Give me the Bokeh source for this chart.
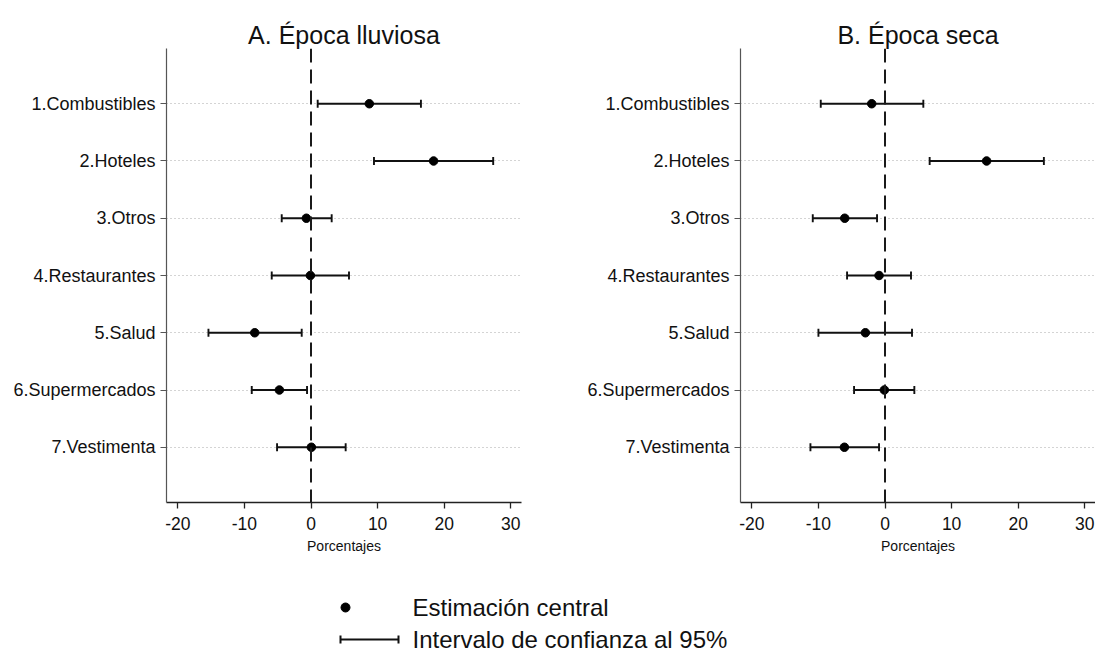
from bokeh.plotting import figure
from bokeh.layouts import column, row
from bokeh.models import (Range1d, FixedTicker, Span, Whisker, TeeHead,
                          ColumnDataSource)
from bokeh.core.properties import value
from bokeh.embed import file_html
from bokeh.resources import INLINE

# ---------------- data ----------------
categories = ["1.Combustibles", "2.Hoteles", "3.Otros", "4.Restaurantes",
              "5.Salud", "6.Supermercados", "7.Vestimenta"]

lluviosa_est = [8.75, 18.4, -0.7, -0.1, -8.45, -4.75, 0.05]
lluviosa_lo = [1.0, 9.45, -4.4, -5.9, -15.4, -8.9, -5.1]
lluviosa_hi = [16.5, 27.35, 3.1, 5.7, -1.4, -0.6, 5.2]

seca_est = [-2.0, 15.25, -6.05, -0.9, -2.95, -0.1, -6.1]
seca_lo = [-9.65, 6.7, -10.85, -5.7, -10.0, -4.65, -11.2]
seca_hi = [5.75, 23.85, -1.2, 3.9, 4.05, 4.4, -0.9]

x_ticks = [-20, -10, 0, 10, 20, 30]
x_tick_labels = ["-20", "-10", "0", "10", "20", "30"]
ref_value = 0
titles = ["A. Época lluviosa", "B. Época seca"]
x_label = "Porcentajes"
legend_labels = ["Estimación central", "Intervalo de confianza al 95%"]

FONT = "Liberation Sans"
rows_idx = list(range(1, len(categories) + 1))


def panel(title, est, lo, hi, border_left, border_right):
    p = figure(output_backend="svg", toolbar_location=None,
               frame_width=355, frame_height=454,
               min_border_left=border_left, min_border_right=border_right,
               min_border_top=48, min_border_bottom=60,
               x_range=Range1d(-21.7, 31.6),
               y_range=Range1d(len(categories) + 0.965, 0.035),
               title=title)
    p.outline_line_color = None
    p.background_fill_color = "white"
    p.border_fill_color = "white"

    p.title.text_font = FONT
    p.title.text_font_size = "25px"
    p.title.text_font_style = "normal"
    p.title.text_color = "#111111"
    p.title.align = "center"
    p.title.standoff = 0

    # x axis
    p.xaxis.ticker = FixedTicker(ticks=x_ticks)
    p.xaxis.major_label_overrides = {t: s for t, s in zip(x_ticks, x_tick_labels)}
    p.xaxis.minor_tick_line_color = None
    p.xaxis.major_tick_out = 6
    p.xaxis.major_tick_in = 0
    p.xaxis.axis_line_color = "#222222"
    p.xaxis.axis_line_width = 1.3
    p.xaxis.major_tick_line_color = "#222222"
    p.xaxis.major_tick_line_width = 1.3
    p.xaxis.major_label_standoff = 8
    p.xaxis.major_label_text_font = FONT
    p.xaxis.major_label_text_font_size = "17.5px"
    p.xaxis.major_label_text_color = "#111111"
    p.xaxis.axis_label = x_label
    p.xaxis.axis_label_text_font = FONT
    p.xaxis.axis_label_text_font_size = "14px"
    p.xaxis.axis_label_text_font_style = "normal"
    p.xaxis.axis_label_text_color = "#111111"
    p.xaxis.axis_label_standoff = 5

    # y axis
    p.yaxis.ticker = FixedTicker(ticks=rows_idx)
    p.yaxis.major_label_overrides = {i: c for i, c in zip(rows_idx, categories)}
    p.yaxis.minor_tick_line_color = None
    p.yaxis.major_tick_out = 6
    p.yaxis.major_tick_in = 0
    p.yaxis.axis_line_color = "#555555"
    p.yaxis.axis_line_width = 1.2
    p.yaxis.major_tick_line_color = "#555555"
    p.yaxis.major_tick_line_width = 1.2
    p.yaxis.major_label_text_font = FONT
    p.yaxis.major_label_text_font_size = "18px"
    p.yaxis.major_label_text_color = "#111111"

    # grid
    p.xgrid.grid_line_color = None
    p.ygrid.grid_line_color = "#a8a8a8"
    p.ygrid.grid_line_dash = "1 3"
    p.ygrid.grid_line_width = 1.2

    # reference line
    p.add_layout(Span(location=ref_value, dimension="height",
                      line_color="#1a1a1a", line_width=2, line_dash="14 7"))

    src = ColumnDataSource(dict(y=rows_idx, est=est, lo=lo, hi=hi))
    p.add_layout(Whisker(source=src, base="y", lower="lo", upper="hi",
                         dimension="width", line_color="#111111", line_width=1.9,
                         lower_head=TeeHead(size=8, line_color="#111111", line_width=1.9),
                         upper_head=TeeHead(size=8, line_color="#111111", line_width=1.9)))
    p.scatter(x="est", y="y", source=src, size=8.5, marker="circle",
              fill_color="black", line_color="black")
    return p


p1 = panel(titles[0], lluviosa_est, lluviosa_lo, lluviosa_hi, 166, 10)
p2 = panel(titles[1], seca_est, seca_lo, seca_hi, 209, 0)

# ---------------- legend (page-pixel coordinates) ----------------
leg = figure(output_backend="svg", toolbar_location=None,
             width=1095, height=90, min_border=0,
             x_range=Range1d(0, 1095), y_range=Range1d(652, 562),
             x_axis_type=None, y_axis_type=None)
leg.outline_line_color = None
leg.grid.visible = False

leg_dot_x, leg_dot_y = [345], [607]
leg_ci = ColumnDataSource(dict(y=[639], lo=[340], hi=[398]))
leg.scatter(leg_dot_x, leg_dot_y, size=9, marker="circle",
            fill_color="black", line_color="black")
leg.add_layout(Whisker(source=leg_ci, base="y", lower="lo", upper="hi",
                       dimension="width", line_color="#111111", line_width=2,
                       lower_head=TeeHead(size=8, line_color="#111111", line_width=2),
                       upper_head=TeeHead(size=8, line_color="#111111", line_width=2)))
leg.text(x=[412, 412], y=[607, 639], text=legend_labels,
         text_font=value(FONT), text_font_size="24px",
         text_baseline="middle", text_align="left", text_color="#111111")

layout = column(row(p1, p2), leg)

open("out.html", "w").write(file_html(layout, INLINE))
